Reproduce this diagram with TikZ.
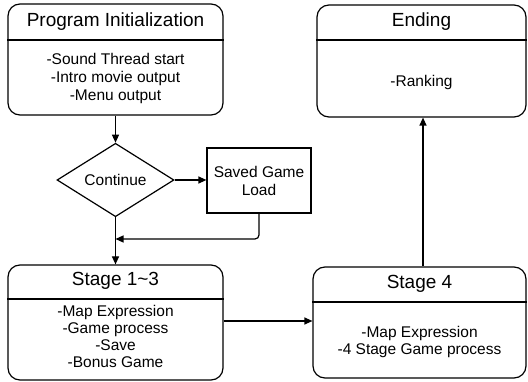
\documentclass[tikz,border=0pt]{standalone}
\usepackage{fontspec}
\setmainfont{Liberation Sans}
\usetikzlibrary{shapes.geometric,arrows.meta}
\begin{document}
\begin{tikzpicture}[x=1pt,y=-1pt,
  lw/.style={line width=1.2pt},
  rbox/.style={draw,lw,rounded corners=12pt,inner sep=0pt},
  pbox/.style={draw,lw,inner sep=0pt},
  ttl/.style={font=\fontsize{19}{22}\selectfont,inner sep=0pt},
  bdy/.style={font=\fontsize{15.5}{18}\selectfont,align=center,inner sep=0pt},
  arr/.style={lw,-{Triangle[length=8pt,width=7pt]}}]
\useasboundingbox[fill=white] (0,0) rectangle (528,382);
% Program Initialization
\node[rbox,minimum width=215pt,minimum height=111pt] (init) at (115.5,59.5) {};
\draw[lw] (init.west |- 0,40) -- (init.east |- 0,40);
\node[ttl] (initT) at (115.5,22) {Program Initialization};
\node[bdy] (initB) at (115.5,78) {-Sound Thread start\\-Intro movie output\\-Menu output};
% Ending
\node[rbox,minimum width=209pt,minimum height=112pt] (end) at (421.5,61) {};
\draw[lw] (end.west |- 0,40) -- (end.east |- 0,40);
\node[ttl] (endT) at (421.5,22) {Ending};
\node[bdy] (endB) at (421.5,82) {-Ranking};
% Continue diamond
\node[diamond,draw,lw,minimum width=117pt,minimum height=70pt,inner sep=0pt,
  font=\fontsize{15.5}{18}\selectfont] (cont) at (115.5,180) {Continue};
% Saved Game Load
\node[pbox,minimum width=104pt,minimum height=65pt,bdy] (saved) at (259,180.5) {Saved Game\\Load};
% Stage 1~3
\node[rbox,minimum width=215pt,minimum height=115pt] (s13) at (115.5,322.5) {};
\draw[lw] (s13.west |- 0,299) -- (s13.east |- 0,299);
\node[ttl] (s13T) at (115.5,281) {Stage 1\textasciitilde 3};
\node[bdy,font=\fontsize{15.5}{17}\selectfont] (s13B) at (115.5,336.5) {-Map Expression\\-Game process\\-Save\\-Bonus Game};
% Stage 4
\node[rbox,minimum width=213pt,minimum height=111pt] (s4) at (419.5,322.5) {};
\draw[lw] (s4.west |- 0,302) -- (s4.east |- 0,302);
\node[ttl] (s4T) at (419.5,284) {Stage 4};
\node[bdy,font=\fontsize{15.5}{17}\selectfont] (s4B) at (419.5,341.5) {-Map Expression\\-4 Stage Game process};
% connectors
\coordinate (join) at (115.5,239);
\draw[arr] (init.south) -- (cont.north);
\draw[arr] (cont.east) -- (saved.west |- cont.east);
\draw[arr,rounded corners=4pt] (saved.south) -- (saved.south |- join) -- (join);
\draw[arr] (cont.south) -- (s13.north);
\draw[arr] (s13.east |- 0,321) -- (s4.west |- 0,321);
\draw[arr] (s4.north -| 423,0) -- (end.south -| 423,0);
\end{tikzpicture}
\end{document}
